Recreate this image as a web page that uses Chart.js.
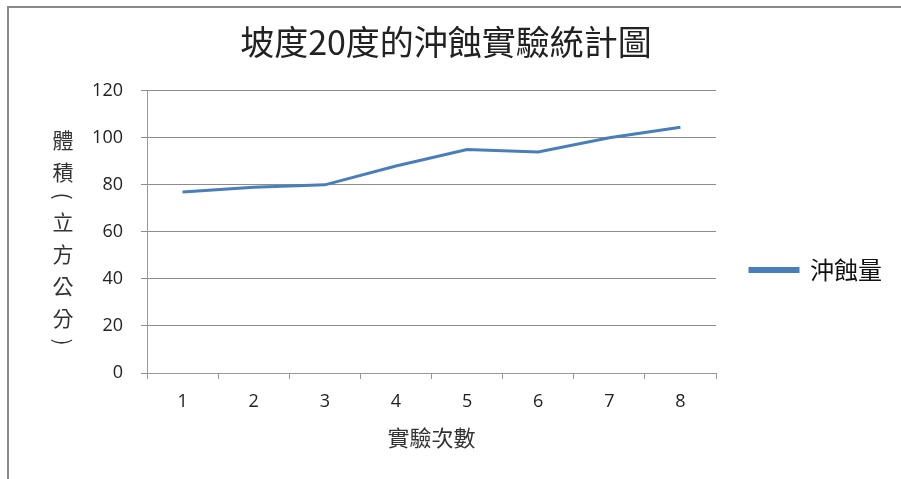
<!DOCTYPE html>
<html>
<head>
<meta charset="utf-8">
<script src="https://cdn.jsdelivr.net/npm/chart.js@4.4.0/dist/chart.umd.min.js"></script>
<style>
  html, body { margin: 0; padding: 0; background: #fff; }
  #wrap { position: relative; width: 901px; height: 479px; }
  #frame { position: absolute; left: 7px; top: 6px; right: 0; bottom: 0; border-top: 2px solid #8a8a8a; border-left: 2px solid #8a8a8a; pointer-events: none; }
  canvas { position: absolute; left: 0; top: 0; }
</style>
</head>
<body>
<div id="wrap">
  <canvas id="chart" width="901" height="479"></canvas>
  <div id="frame"></div>
</div>
<script>
const categories = ['1', '2', '3', '4', '5', '6', '7', '8'];
const erosion = [77, 79, 80, 88, 95, 94, 100, 104.5];
const seriesName = '沖蝕量';
const chartTitle = '坡度20度的沖蝕實驗統計圖';
const xTitle = '實驗次數';
const yTitle = ['體', '積', '(', '立', '方', '公', '分', ')'];

const cjk = '"Noto Sans CJK TC", "Noto Sans", sans-serif';

// y axis title is written top-to-bottom, one character per row
const verticalTitle = {
  id: 'verticalTitle',
  afterDraw(chart) {
    const ctx = chart.ctx;
    const x = 63;
    let y = 140;
    ctx.save();
    ctx.font = '21px ' + cjk;
    ctx.fillStyle = '#333';
    ctx.textAlign = 'center';
    ctx.textBaseline = 'middle';
    yTitle.forEach(ch => {
      if (ch === '(' || ch === ')') {
        ctx.save();
        ctx.translate(x, y - 8);
        ctx.rotate(Math.PI / 2);
        ctx.fillText(ch, 0, 0);
        ctx.restore();
        y += 18;
      } else {
        ctx.fillText(ch, x, y);
        y += 32;
      }
    });
    ctx.restore();
  }
};

new Chart(document.getElementById('chart'), {
  type: 'line',
  data: {
    labels: categories,
    datasets: [{
      label: seriesName,
      data: erosion,
      borderColor: '#4a7ebb',
      backgroundColor: '#4a7ebb',
      borderWidth: 3,
      pointRadius: 0,
      tension: 0,
    }],
  },
  options: {
    responsive: false,
    animation: false,
    layout: { padding: { left: 0, right: 9, top: 0, bottom: 28 } },
    plugins: {
      title: {
        display: true,
        text: chartTitle,
        color: '#222',
        font: { family: cjk, size: 34, weight: 'normal' },
        padding: { top: 22, bottom: 28 },
      },
      legend: {
        position: 'right',
        // empty legend title only pushes the single entry down, as in the original
        title: { display: true, text: '', font: { size: 1 }, padding: { top: 88, bottom: 0 } },
        labels: {
          boxWidth: 48,
          boxHeight: 3,
          color: '#111',
          font: { family: cjk, size: 24 },
          padding: 34,
        },
      },
      tooltip: { enabled: false },
    },
    scales: {
      x: {
        offset: true,
        grid: {
          offset: true,
          drawOnChartArea: false,
          drawTicks: true,
          tickLength: 6,
          color: '#999',
        },
        border: { color: '#999', width: 1 },
        ticks: {
          color: '#222',
          font: { family: '"Open Sans", sans-serif', size: 18 },
          padding: 12,
        },
        title: {
          display: true,
          text: xTitle,
          color: '#333',
          font: { family: cjk, size: 22 },
          padding: { top: 0, bottom: 0 },
        },
      },
      y: {
        min: 0,
        max: 120,
        afterFit(scale) { scale.width = 147; },
        ticks: {
          stepSize: 20,
          color: '#222',
          font: { family: '"Open Sans", sans-serif', size: 18 },
          padding: 18,
        },
        grid: {
          color: '#8c8c8c',
          tickLength: 6,
        },
        border: { color: '#999', width: 1 },
      },
    },
  },
  plugins: [verticalTitle],
});
</script>
</body>
</html>
